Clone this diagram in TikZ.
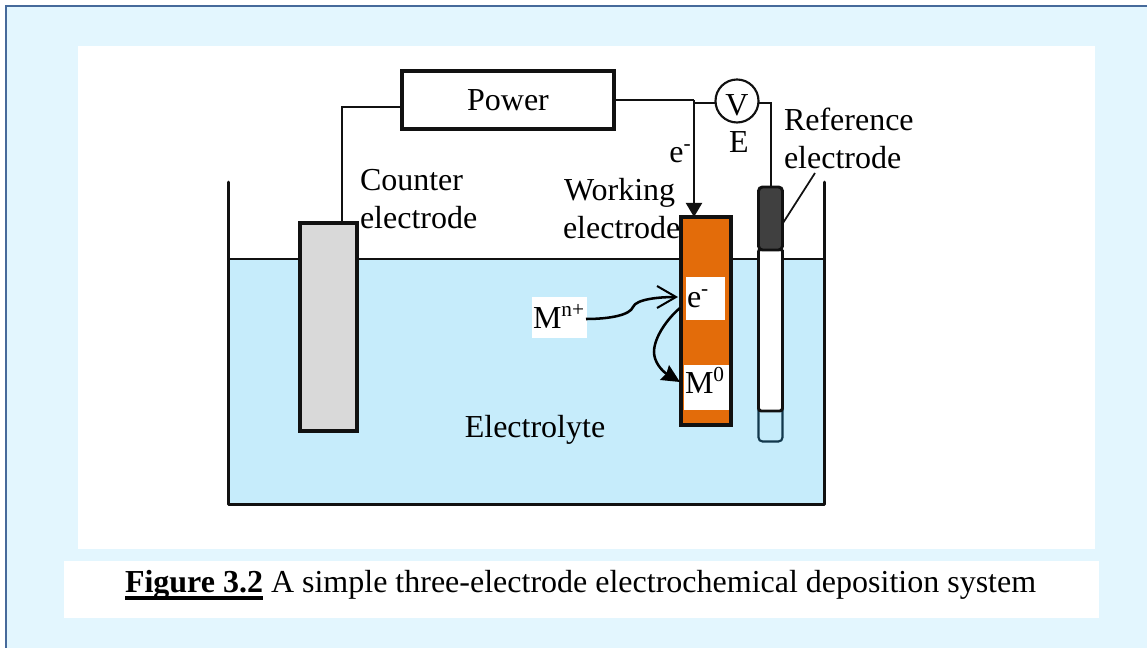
\documentclass[tikz,border=0pt]{standalone}
\usepackage{fontspec}
\setmainfont{Liberation Serif}
\usetikzlibrary{arrows.meta}
\definecolor{panel}{HTML}{E3F6FE}
\definecolor{panelline}{HTML}{466A9B}
\definecolor{water}{HTML}{C6ECFB}
\definecolor{orangeel}{HTML}{E36C0A}
\definecolor{greyel}{HTML}{D9D9D9}
\definecolor{darkel}{HTML}{404040}
\definecolor{inkk}{HTML}{111111}
\definecolor{tube}{HTML}{12384C}
\newcommand{\lbl}{\fontsize{24pt}{28.5pt}\selectfont}
\newcommand{\supr}[1]{\raisebox{0.38em}{\fontsize{16pt}{16pt}\selectfont #1}}
\newcommand{\figul}[1]{\setbox0=\hbox{\textbf{#1}}\rlap{\rule[-5.25pt]{\wd0}{3pt}}\box0\relax}
\tikzset{
  x=0.75pt,y=-0.75pt,
  thick line/.style={draw=inkk,line width=2.28pt},
  wire/.style={draw=inkk,line width=1.5pt},
  bx/.style 2 args={minimum width=#1*0.75pt,minimum height=#2*0.75pt,inner sep=0pt,outer sep=0pt},
  label text/.style={font=\lbl,inner sep=0pt,outer sep=0pt,anchor=base west,text=black},
  mid text/.style={font=\lbl,inner sep=0pt,outer sep=0pt,anchor=base,text=black},
  white box/.style={fill=white,draw=none}
}
\begin{document}
\begin{tikzpicture}
\useasboundingbox (0,0) rectangle (1147,648);
% panels
\path[fill=panel,draw=panelline,line width=1.5pt] (6,6) rectangle (1170,670);
\fill[white] (78,46) rectangle (1095,549);
\fill[white] (64,561) rectangle (1099,618);
% electrolyte
\fill[water] (229,260) rectangle (824,504);
% tank
\draw[draw=inkk,line width=2.2pt,line cap=round,line join=round] (228.5,182) -- (228.5,504.5) -- (824.5,504.5) -- (824.5,182);
\draw[draw=inkk,line width=2.2pt] (228.5,259) -- (824.5,259);
% electrodes
\node[bx={57}{208},thick line,fill=greyel] (counter) at (328.5,327) {};
\node[bx={50}{208},thick line,fill=orangeel] (working) at (706,321) {};
% reference electrode
\draw[line width=1.6pt,draw=tube,fill=water,rounded corners=3pt] (758.5,400) -- (758.5,441.5) -- (782.5,441.5) -- (782.5,400);
\draw[draw=inkk,line width=2.2pt] (782.5,250) -- (782.5,275);
\node[bx={24}{162},thick line,line width=2.2pt,fill=white,rounded corners=2pt] (refbody) at (770.5,330) {};
\node[bx={24}{63},thick line,line width=2.2pt,fill=darkel,rounded corners=3pt] (refcap) at (770.5,218.5) {};
% power and voltmeter
\node[bx={212}{58},thick line,fill=white] (power) at (508,100) {};
\node[circle,draw=inkk,line width=1.6pt,fill=white,minimum size=43*0.75pt,inner sep=0pt,outer sep=0pt] (vm) at (737,101) {};
% wiring
\coordinate (pl) at (402,107);
\coordinate (cw) at (342,223);
\coordinate (jt) at (694,100);
\coordinate (vl) at (694,103);
\coordinate (vr) at (770.5,103);
\draw[wire] (pl) -| (cw);
\draw[wire] (power.east |- jt) -- (jt);
\draw[wire] (vl) -- (vl -| vm.west);
\draw[wire] (vr -| vm.east) -- (vr) -- (refcap.north);
\draw[wire,-{Triangle[width=16*0.75pt,length=14*0.75pt]}] (jt) -- (jt |- working.north);
% white label boxes
\node[bx={39}{43},white box] (ebox) at (705.5,298.5) {};
\node[bx={45}{45},white box] (mbox) at (706.5,387.5) {};
\node[bx={55}{41},white box] (ionbox) at (559.5,317.5) {};
% curved arrows
\coordinate (ionstart) at (586,319);
\coordinate (etip) at (678,297);
\coordinate (dstart) at (680,308);
\coordinate (mtip) at (680,382);
\draw[draw=black,line width=1.9pt,-{Straight Barb[width=22*0.75pt,length=19*0.75pt,line width=1.5pt]}]
  (ionstart) .. controls (610,319) and (630,315) .. (633,307) .. controls (636,299) and (660,297) .. (etip);
\draw[draw=black,line width=1.9pt,-{Stealth[width=17*0.75pt,length=18*0.75pt,inset=1.5pt]}]
  (dstart) .. controls (668,318) and (654,337) .. (654,352) .. controls (654,362) and (662,371) .. (mtip);
% leader
\coordinate (lead) at (815,173);
\draw[draw=inkk,line width=1.3pt] (783,223) -- (lead);
% labels
\node[mid text] (tpower) at (508,111) {Power};
\node[mid text] (tv) at (737,116) {V};
\node[mid text] (te) at (739,153) {E};
\node[mid text] (tel) at (680,163) {e\supr{-}};
\node[label text] (tc1) at (360,191) {Counter};
\node[label text] (tc2) at (360,229) {electrode};
\node[label text] (tw1) at (564,201) {Working};
\node[label text] (tw2) at (563,239) {electrode};
\node[label text] (tr1) at (784,131) {Reference};
\node[label text] (tr2) at (784,169) {electrode};
\node[mid text] (tely) at (535,438) {Electrolyte};
\node[label text] (tei) at (687,308) {e\supr{-}};
\node[label text] (tm0) at (685,394) {M\supr{0}};
\node[label text] (tion) at (533,329) {M\supr{n+}};
\node[font=\lbl,inner sep=0pt,outer sep=0pt,anchor=base west,text=black] (cap) at (125,593)
  {\figul{Figure 3.2} A simple three-electrode electrochemical deposition system};
\end{tikzpicture}
\end{document}
